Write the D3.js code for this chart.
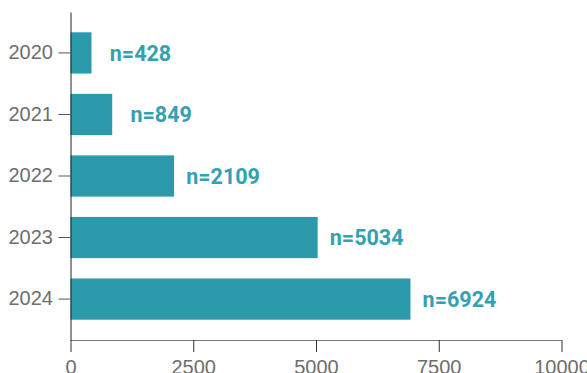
<!DOCTYPE html>
<html>
<head>
<meta charset="utf-8">
<script src="https://cdn.jsdelivr.net/npm/d3@7"></script>
<style>
  html, body { margin: 0; padding: 0; background: #fff; }
  svg { display: block; }
</style>
</head>
<body>
<div id="chart"></div>
<script>
const years = ["2020", "2021", "2022", "2023", "2024"];
const counts = [428, 849, 2109, 5034, 6924];
const xTicks = [0, 2500, 5000, 7500, 10000];

const W = 587, H = 373;
const margin = { top: 12, right: 25.5, bottom: 33, left: 70.5 };
const barColor = "#2b9aab";
const labelColor = "#34a1b1";
const tickColor = "#6e6e6e";

const svg = d3.select("#chart").append("svg")
  .attr("width", W).attr("height", H);

const x = d3.scaleLinear().domain([0, 10000]).range([margin.left, W - margin.right]);
const y = d3.scaleBand().domain(years).range([margin.top, H - margin.bottom])
  .paddingInner(0.33).paddingOuter(0.33);

const data = years.map((yr, i) => ({ year: yr, n: counts[i] }));

svg.append("g").selectAll("rect").data(data).join("rect")
  .attr("x", x(0))
  .attr("y", d => y(d.year))
  .attr("width", d => x(d.n) - x(0))
  .attr("height", y.bandwidth())
  .attr("fill", barColor);

svg.append("g").selectAll("text").data(data).join("text")
  .attr("x", d => x(d.n) + 49)
  .attr("y", d => y(d.year) + y.bandwidth() / 2)
  .attr("dy", "0.36em")
  .attr("text-anchor", "middle")
  .attr("font-family", "Roboto, 'Liberation Sans', Arial, sans-serif")
  .attr("font-weight", "bold")
  .attr("font-size", 21.5)
  .attr("fill", labelColor)
  .text(d => "n=" + d.n);

const xAxis = svg.append("g")
  .attr("transform", `translate(0,${H - margin.bottom})`)
  .call(d3.axisBottom(x).tickValues(xTicks).tickSize(12).tickSizeOuter(0).tickPadding(8).tickFormat(d3.format("d")));
xAxis.select(".domain").attr("stroke", "#777");
xAxis.selectAll(".tick line").attr("stroke", "#333");
xAxis.selectAll("text").attr("font-family", "'Liberation Sans', Arial, sans-serif")
  .attr("font-size", 20).attr("fill", tickColor);

const yAxis = svg.append("g")
  .attr("transform", `translate(${margin.left},0)`)
  .call(d3.axisLeft(y).tickSize(12).tickSizeOuter(0).tickPadding(5.5));
yAxis.select(".domain").attr("stroke", "#222");
yAxis.selectAll(".tick line").attr("stroke", "#555");
yAxis.selectAll("text").attr("font-family", "'Liberation Sans', Arial, sans-serif")
  .attr("font-size", 20).attr("fill", tickColor);
</script>
</body>
</html>
